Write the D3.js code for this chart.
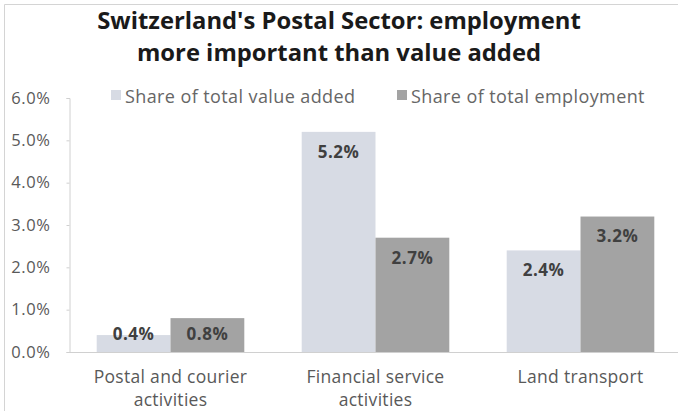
<!DOCTYPE html>
<html>
<head>
<meta charset="utf-8">
<script src="https://cdn.jsdelivr.net/npm/d3@7"></script>
<style>
  html, body { margin: 0; padding: 0; background: #fff; }
  svg { display: block; }
  text { font-family: "Open Sans", "Noto Sans", sans-serif; }
</style>
</head>
<body>
<svg id="chart" width="678" height="411"></svg>
<script>
// Sector shares of the Swiss economy (per cent as fractions)
const categories = ["Postal and courier activities", "Financial service activities", "Land transport"];
const seriesNames = ["Share of total value added", "Share of total employment"];
const valueAdded = [0.004, 0.052, 0.024];
const employment = [0.008, 0.027, 0.032];
const yTicks = [0, 0.01, 0.02, 0.03, 0.04, 0.05, 0.06];
const titleLines = ["Switzerland's Postal Sector: employment", "more important than value added"];

const colors = ["#d7dbe4", "#a3a3a3"];
const seriesValues = [valueAdded, employment];

const svg = d3.select("#chart");
const W = 678, H = 411;

// outer frame
svg.append("path")
  .attr("d", `M4.5,${H} V4.5 H${W}`)
  .attr("fill", "none")
  .attr("stroke", "#d4d4d4")
  .attr("stroke-width", 1);

// title
svg.append("g")
  .selectAll("text")
  .data(titleLines)
  .join("text")
  .attr("x", 339)
  .attr("y", (d, i) => 29 + i * 32)
  .attr("text-anchor", "middle")
  .attr("font-size", 23.8)
  .attr("font-weight", 700)
  .attr("fill", "#1a1a1a")
  .text(d => d);

// scales
const x0 = d3.scaleBand()
  .domain(categories)
  .range([68, 683])
  .paddingInner(0.28)
  .paddingOuter(0.14);

const x1 = d3.scaleBand()
  .domain(seriesNames)
  .range([0, x0.bandwidth()]);

const y = d3.scaleLinear()
  .domain([0, 0.06])
  .range([352, 98]);

// y axis
const yAxis = svg.append("g")
  .attr("transform", "translate(69.5,0)")
  .call(d3.axisLeft(y).tickValues(yTicks).tickFormat(d3.format(".1%")).tickSize(3).tickPadding(16).tickSizeOuter(3));
yAxis.select(".domain").attr("stroke", "#d0d0d0");
yAxis.selectAll(".tick line").attr("stroke", "#d0d0d0");
yAxis.selectAll(".tick text")
  .attr("font-size", 16.5)
  .attr("letter-spacing", 0.6)
  .attr("fill", "#595959")
  .attr("font-family", "'Open Sans', sans-serif");

// bars
const rows = categories.map((c, i) => ({
  category: c,
  values: seriesNames.map((s, j) => ({ series: s, value: seriesValues[j][i], idx: j }))
}));

const groups = svg.append("g")
  .selectAll("g")
  .data(rows)
  .join("g")
  .attr("transform", d => `translate(${x0(d.category)},0)`);

groups.selectAll("rect")
  .data(d => d.values)
  .join("rect")
  .attr("x", d => x1(d.series))
  .attr("y", d => y(d.value))
  .attr("width", x1.bandwidth())
  .attr("height", d => y(0) - y(d.value))
  .attr("fill", d => colors[d.idx]);

// value labels, inside the bar top, kept above the baseline
groups.selectAll("text.val")
  .data(d => d.values)
  .join("text")
  .attr("class", "val")
  .attr("x", d => x1(d.series) + x1.bandwidth() / 2)
  .attr("y", d => Math.min(y(d.value) + 20, y(0) - 18))
  .attr("dy", "0.35em")
  .attr("text-anchor", "middle")
  .attr("font-size", 17)
  .attr("letter-spacing", 0.5)
  .attr("font-weight", 700)
  .attr("fill", "#404040")
  .text(d => d3.format(".1%")(d.value));

// baseline
svg.append("line")
  .attr("x1", 69).attr("x2", W)
  .attr("y1", y(0) + 0.5).attr("y2", y(0) + 0.5)
  .attr("stroke", "#d0d0d0");

// category labels, word-wrapped
const maxLabelWidth = 175;
const catG = svg.append("g");
categories.forEach(c => {
  const cx = x0(c) + x0.bandwidth() / 2;
  const t = catG.append("text")
    .attr("x", cx)
    .attr("y", 383)
    .attr("text-anchor", "middle")
    .attr("font-size", 17.5)
    .attr("letter-spacing", 0.3)
    .attr("fill", "#595959");
  const words = c.split(" ");
  let line = [];
  let tspan = t.append("tspan").attr("x", cx).attr("dy", 0);
  words.forEach(w => {
    line.push(w);
    tspan.text(line.join(" "));
    if (tspan.node().getComputedTextLength() > maxLabelWidth && line.length > 1) {
      line.pop();
      tspan.text(line.join(" "));
      line = [w];
      tspan = t.append("tspan").attr("x", cx).attr("dy", 23).text(w);
    }
  });
});

// legend
const legendX = [111, 397];
const legend = svg.append("g")
  .selectAll("g")
  .data(seriesNames)
  .join("g")
  .attr("transform", (d, i) => `translate(${legendX[i]},90)`);
legend.append("rect")
  .attr("width", 10).attr("height", 10)
  .attr("fill", (d, i) => colors[i]);
legend.append("text")
  .attr("x", 14)
  .attr("y", 12.5)
  .attr("font-size", 18)
  .attr("letter-spacing", 0.4)
  .attr("fill", "#666")
  .text(d => d);
</script>
</body>
</html>
